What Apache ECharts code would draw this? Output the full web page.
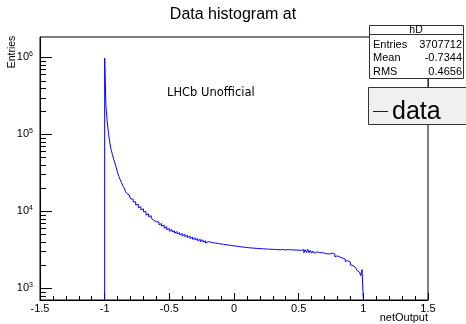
<!DOCTYPE html>
<html>
<head>
<meta charset="utf-8">
<script src="https://cdn.jsdelivr.net/npm/echarts@6/dist/echarts.min.js"></script>
<style>
  html, body { margin: 0; padding: 0; background: #fff; }
  #main { width: 466px; height: 324px; }
</style>
</head>
<body>
<div id="main"></div>
<script>
// histogram hD: 200 bins of width 0.01 from -1 to 1
var binLow = -1;
var binWidth = 0.01;
var counts = [
  975000, 230000, 145000, 102000, 77000, 63000, 54500, 47000, 42000, 36500,
  31500, 28200, 25600, 23600, 21400, 20100, 18200, 17100, 16200, 15600,
  14500, 14300, 13100, 13300, 12000, 12300, 11100, 11400, 10400, 10700,
  9800, 9900, 8900, 9200, 8500, 8700, 8100, 7650, 7500, 7250,
  6900, 7250, 6650, 6900, 6400, 6600, 6000, 6300, 5750, 5950,
  5500, 5780, 5380, 5550, 5200, 5420, 5050, 5250, 4920, 5120,
  4780, 5000, 4650, 4850, 4520, 4750, 4420, 4600, 4300, 4500,
  4220, 4400, 4120, 4310, 4030, 4240, 3950, 4120, 3860, 4020,
  3800, 3960, 3730, 3880, 3690, 3840, 3650, 3800, 3610, 3740,
  3560, 3700, 3520, 3660, 3480, 3620, 3440, 3580, 3410, 3540,
  3380, 3510, 3340, 3470, 3300, 3430, 3270, 3400, 3240, 3370,
  3220, 3340, 3200, 3320, 3180, 3300, 3160, 3280, 3140, 3260,
  3120, 3250, 3100, 3230, 3090, 3210, 3070, 3200, 3060, 3190,
  3040, 3180, 3030, 3160, 3020, 3150, 3030, 3170, 3010, 3140,
  3020, 3160, 3000, 3150, 2990, 3130, 2980, 3120, 2970, 3110,
  2950, 3100, 2930, 3160, 2880, 3150, 2900, 3200, 2860, 3100,
  2850, 3030, 2830, 2950, 2810, 2910, 2780, 2880, 2740, 2850,
  2740, 2790, 2700, 2780, 2650, 2850, 2700, 2760, 2560, 2620,
  2480, 2530, 2420, 2460, 2330, 2380, 2220, 2270, 2150, 2180,
  2000, 1960, 1900, 1850, 1760, 1700, 1620, 1560, 1450, 1740
];

var xTickLabels = ["-1.5", "-1", "-0.5", "0", "0.5", "1", "1.5"];
var yDecades = [3, 4, 5, 6];        // 10^3 .. 10^6
var yRange = [700, 1840000];        // log axis extent (counts)

var statNames = ["Entries", "Mean", "RMS"];
var statValues = ["3707712", "-0.7344", "0.4656"];

var yMinLog = Math.log10(yRange[0]);
var yMaxLog = Math.log10(yRange[1]);

// minor log ticks 2..9 x 10^n inside the range, placed on the left axis (x = -1.5)
var yMinor = [];
for (var n = 2; n <= 6; n++) {
  for (var k = 2; k <= 9; k++) {
    var v = Math.log10(k * Math.pow(10, n));
    if (v > yMinLog && v < yMaxLog) yMinor.push([-1.5, v]);
  }
}

// step outline of the histogram
var histLine = [[binLow, yMinLog]];
for (var i = 0; i < counts.length; i++) {
  histLine.push([binLow + i * binWidth, Math.log10(counts[i])]);
}
histLine.push([binLow + counts.length * binWidth, yMinLog]);

var font = "Liberation Sans, Arial, sans-serif";

function label(txt, x, y, size, align, extra) {
  var el = {
    type: "text", x: x, y: y, z: 11,
    style: {
      text: txt, font: size + "px " + font, fill: "#000",
      align: align, verticalAlign: "middle", textAlign: align, textVerticalAlign: "middle"
    }
  };
  if (extra) for (var key in extra) el[key] = extra[key];
  return el;
}

var chart = echarts.init(document.getElementById("main"));
var option = {
  animation: false,
  grid: {
    left: 40, top: 37, right: 38, bottom: 24,
    show: true, borderColor: "#000", borderWidth: 1
  },
  xAxis: {
    type: "value",
    min: -1.5, max: 1.5, interval: 0.5,
    axisLine: { show: true, onZero: false, lineStyle: { color: "#000", width: 1 } },
    axisTick: { show: true, inside: true, length: 7, lineStyle: { color: "#000", width: 1 } },
    minorTick: { show: true, splitNumber: 5, length: 4, lineStyle: { color: "#000", width: 1 } },
    axisLabel: {
      margin: 3, fontFamily: font, fontSize: 11, color: "#000",
      formatter: function (val) {
        var idx = Math.round((val + 1.5) / 0.5);
        return xTickLabels[idx];
      }
    },
    splitLine: { show: false }
  },
  yAxis: {
    type: "value",
    min: yMinLog, max: yMaxLog,
    axisLine: { show: true, onZero: false, lineStyle: { color: "#000", width: 1 } },
    axisTick: { show: true, inside: true, length: 12, customValues: yDecades, lineStyle: { color: "#000", width: 1 } },
    axisLabel: {
      margin: 7, customValues: yDecades,
      formatter: function (val) { return "{b|10}{e|" + Math.round(val) + "}"; },
      rich: {
        b: { fontFamily: font, fontSize: 11, color: "#000", lineHeight: 14 },
        e: { fontFamily: font, fontSize: 7, color: "#000", verticalAlign: "top", lineHeight: 14, padding: [0, 0, 5, 0] }
      }
    },
    splitLine: { show: false }
  },
  series: [
    {
      type: "line",
      name: "data",
      data: histLine,
      step: "end",
      symbol: "none",
      clip: true,
      lineStyle: { color: "#0000ff", width: 1 }
    },
    {
      // minor log ticks on the y axis
      type: "custom",
      data: yMinor,
      encode: { x: 0, y: 1 },
      silent: true,
      renderItem: function (params, api) {
        var p = api.coord([api.value(0), api.value(1)]);
        var y = Math.round(p[1]) + 0.5;
        return {
          type: "line",
          shape: { x1: p[0], y1: y, x2: p[0] + 6, y2: y },
          style: { stroke: "#000", lineWidth: 1 }
        };
      }
    }
  ],
  graphic: [
    label("Data histogram at", 233, 15, 16, "center"),
    label("Entries", 12, 52, 10.5, "center", { rotation: Math.PI / 2 }),
    label("netOutput", 428, 318, 11, "right"),
    {
      type: "text", x: 167, y: 93, z: 11,
      style: { text: "LHCb Unofficial", font: "11.5px DejaVu Sans, sans-serif", fill: "#000", align: "left", verticalAlign: "middle", textAlign: "left", textVerticalAlign: "middle" }
    },
    // stats box
    { type: "rect", shape: { x: 369.5, y: 25.5, width: 94, height: 53 }, style: { fill: "#fff", stroke: "#333", lineWidth: 1 }, z: 10 },
    { type: "line", shape: { x1: 369.5, y1: 34.5, x2: 463.5, y2: 34.5 }, style: { stroke: "#333", lineWidth: 1 }, z: 11 },
    label("hD", 416, 30.5, 10.5, "center"),
    label(statNames[0], 373, 45, 11, "left"),
    label(statNames[1], 373, 58.3, 11, "left"),
    label(statNames[2], 373, 71.6, 11, "left"),
    label(statValues[0], 462, 45, 11, "right"),
    label(statValues[1], 462, 58.3, 11, "right"),
    label(statValues[2], 462, 71.6, 11, "right"),
    { type: "line", shape: { x1: 428.5, y1: 78.5, x2: 428.5, y2: 87.5 }, style: { stroke: "#333", lineWidth: 1 }, z: 10 },
    // legend box
    { type: "rect", shape: { x: 368.5, y: 87.5, width: 110, height: 37 }, style: { fill: "#f0f0f0", stroke: "#333", lineWidth: 1 }, z: 10 },
    { type: "line", shape: { x1: 373, y1: 111.5, x2: 388, y2: 111.5 }, style: { stroke: "#0000ff", lineWidth: 1 }, z: 11 },
    label("data", 392, 112, 25, "left")
  ]
};
chart.setOption(option);
</script>
</body>
</html>
